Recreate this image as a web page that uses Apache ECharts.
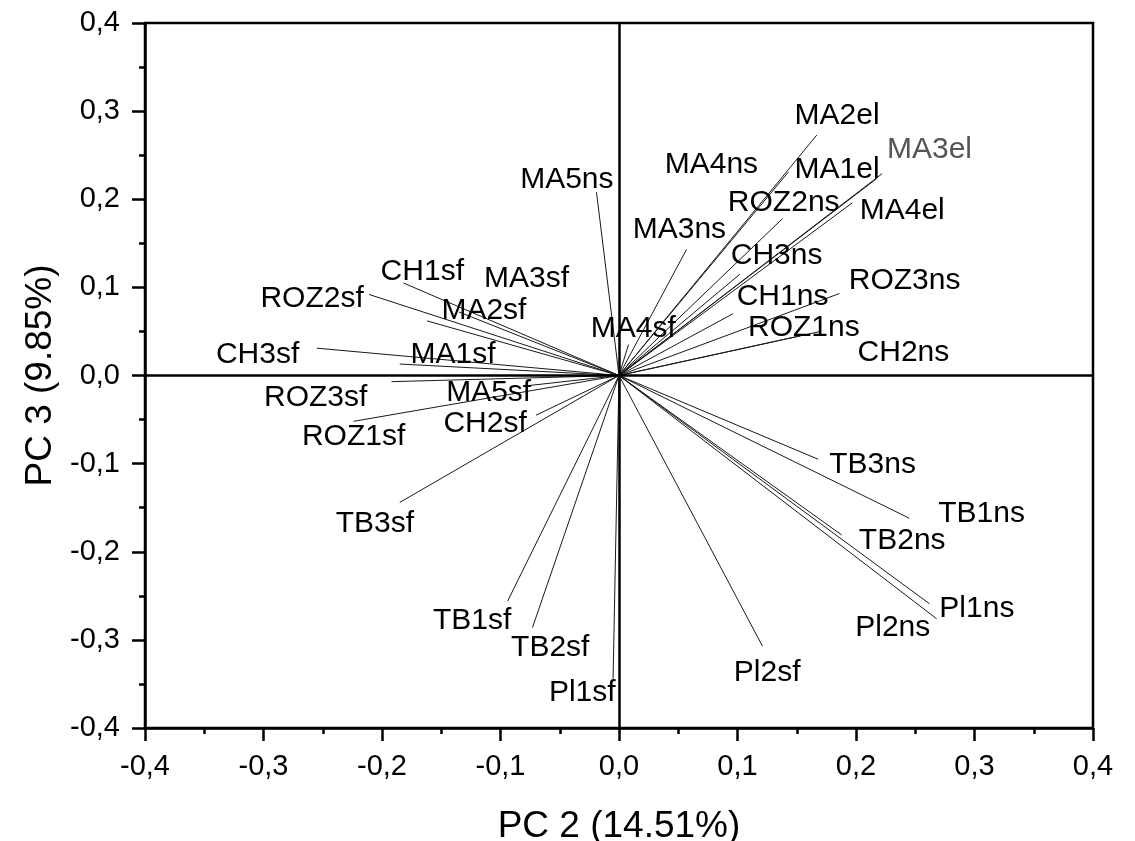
<!DOCTYPE html>
<html>
<head>
<meta charset="utf-8">
<script src="https://cdn.jsdelivr.net/npm/echarts@6/dist/echarts.min.js"></script>
<style>
  html, body { margin: 0; padding: 0; background: #fff; }
  #chart { width: 1135px; height: 841px; }
</style>
</head>
<body>
<div id="chart"></div>
<script>
// loading vectors, PC 2 vs PC 3
let names = ['MA2el', 'MA3el', 'MA1el', 'MA4el', 'MA4ns', 'ROZ2ns', 'MA3ns', 'CH3ns', 'CH1ns', 'ROZ3ns', 'ROZ1ns', 'CH2ns', 'MA4sf',
    'MA5ns', 'CH1sf', 'MA3sf', 'ROZ2sf', 'MA2sf', 'CH3sf', 'MA1sf',
    'ROZ3sf', 'MA5sf', 'ROZ1sf', 'CH2sf', 'TB3sf', 'TB1sf', 'TB2sf', 'Pl1sf',
    'TB3ns', 'TB1ns', 'TB2ns', 'Pl1ns', 'Pl2ns', 'Pl2sf'];
let pc2 = [0.167, 0.222, 0.218, 0.197, 0.143, 0.138, 0.057, 0.102, 0.096, 0.186, 0.153, 0.170, 0.008,
    -0.019, -0.182, -0.135, -0.211, -0.162, -0.255, -0.185,
    -0.192, -0.080, -0.224, -0.070, -0.185, -0.094, -0.073, -0.005,
    0.168, 0.245, 0.188, 0.262, 0.268, 0.121];
let pc3 = [0.273, 0.229, 0.224, 0.196, 0.231, 0.178, 0.143, 0.115, 0.070, 0.093, 0.045, 0.050, 0.035,
    0.208, 0.105, 0.072, 0.092, 0.062, 0.031, 0.013,
    -0.007, -0.012, -0.052, -0.045, -0.144, -0.256, -0.286, -0.344,
    -0.095, -0.162, -0.181, -0.259, -0.276, -0.307];
// where each name is written (axis units)
let labelX = [0.184, 0.262, 0.184, 0.239, 0.078, 0.139, 0.051, 0.133, 0.138, 0.241, 0.156, 0.240, 0.012,
    -0.044, -0.166, -0.078, -0.259, -0.114, -0.305, -0.140,
    -0.256, -0.110, -0.224, -0.113, -0.206, -0.124, -0.058, -0.031,
    0.214, 0.306, 0.239, 0.302, 0.231, 0.125];
let labelY = [0.295, 0.256, 0.233, 0.187, 0.239, 0.196, 0.165, 0.136, 0.089, 0.107, 0.054, 0.026, 0.053,
    0.222, 0.118, 0.110, 0.087, 0.074, 0.024, 0.024,
    -0.025, -0.020, -0.070, -0.055, -0.168, -0.278, -0.309, -0.360,
    -0.101, -0.157, -0.187, -0.265, -0.286, -0.337];
let ticks = [-0.4, 0.4, 0.1];

let fontName = 'Liberation Sans';
let chart = echarts.init(document.getElementById('chart'));

function commaFmt(v) {
    return v.toFixed(1).replace('.', ',');
}

function axisOf(title, gap, labelGap) {
    return {
        type: 'value',
        min: ticks[0],
        max: ticks[1],
        interval: ticks[2],
        name: title,
        nameLocation: 'middle',
        nameGap: gap,
        nameTextStyle: {fontFamily: fontName, fontSize: 37, color: '#000'},
        axisLine: {show: true, onZero: false, lineStyle: {color: '#000', width: 2.5}},
        axisTick: {show: true, length: 13, lineStyle: {color: '#000', width: 2.5}},
        minorTick: {show: true, splitNumber: 2, length: 6, lineStyle: {color: '#000', width: 2.5}},
        splitLine: {show: false},
        axisLabel: {fontFamily: fontName, fontSize: 29, color: '#000', margin: labelGap, formatter: commaFmt}
    };
}

let option = {
    backgroundColor: '#fff',
    animation: false,
    grid: {
        left: 145, right: 42, top: 23, bottom: 113,
        outerBoundsMode: 'none',
        containLabel: false,
        show: true, borderColor: '#000', borderWidth: 2.5
    },
    xAxis: axisOf('PC 2 (14.51%)', 80, 24),
    yAxis: axisOf('PC 3 (9.85%)', 84, 25),
    series: [
        {
            type: 'lines',
            coordinateSystem: 'cartesian2d',
            silent: true,
            lineStyle: {color: '#1a1a1a', width: 1, opacity: 1},
            data: names.map(function (n, i) {
                return {name: n, coords: [[0, 0], [pc2[i], pc3[i]]]};
            })
        },
        {
            type: 'scatter',
            symbolSize: 0,
            silent: true,
            itemStyle: {opacity: 1},
            data: names.map(function (n, i) {
                let item = {name: n, value: [labelX[i], labelY[i]]};
                if (n === 'MA3el') {
                    item.label = {color: '#555'};
                }
                return item;
            }),
            label: {
                show: true,
                position: 'inside',
                formatter: '{b}',
                fontFamily: fontName,
                fontSize: 30,
                color: '#000',
                textBorderWidth: 0
            },
            markLine: {
                silent: true,
                symbol: 'none',
                label: {show: false},
                lineStyle: {color: '#000', width: 2.5, type: 'solid'},
                data: [{xAxis: 0}, {yAxis: 0}]
            }
        }
    ]
};
chart.setOption(option);
</script>
</body>
</html>
